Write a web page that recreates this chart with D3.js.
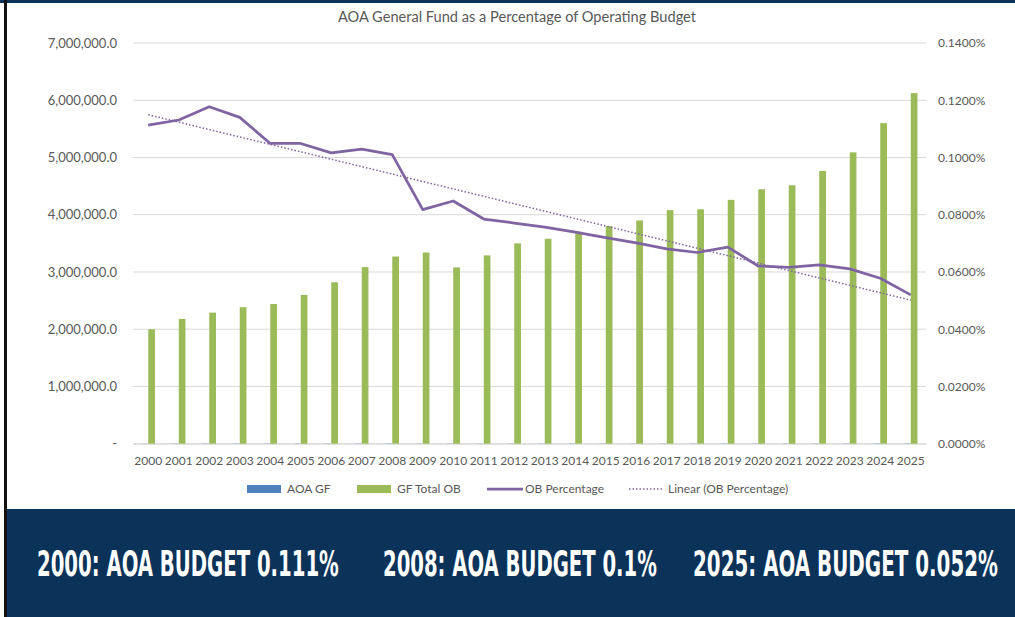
<!DOCTYPE html>
<html>
<head>
<meta charset="utf-8">
<script src="https://cdn.jsdelivr.net/npm/d3@7"></script>
<style>
  html, body { margin: 0; padding: 0; background: #fff; }
  svg { display: block; }
</style>
</head>
<body>
<svg id="chart" width="1015" height="617"></svg>
<script>
// data
const years = ["2000","2001","2002","2003","2004","2005","2006","2007","2008","2009","2010","2011","2012",
               "2013","2014","2015","2016","2017","2018","2019","2020","2021","2022","2023","2024","2025"];
const aoaGf = [2226, 2466, 2695, 2719, 2560, 2727, 2865, 3175, 3303, 2732, 2612, 2583, 2699,
               2710, 2734, 2736, 2738, 2778, 2735, 2927, 2760, 2781, 2978, 3110, 3237, 3185];
const gfTotalOb = [2000000, 2180000, 2290000, 2385000, 2440000, 2600000, 2820000, 3085000, 3270000, 3340000, 3080000, 3290000, 3500000,
                   3580000, 3700000, 3800000, 3900000, 4080000, 4095000, 4260000, 4445000, 4515000, 4765000, 5090000, 5600000, 6125000];
const obPct = [0.001113, 0.001131, 0.001177, 0.001140, 0.001049, 0.001049, 0.001016, 0.001029, 0.001010, 0.000818, 0.000848, 0.000785, 0.000771,
               0.000757, 0.000739, 0.000720, 0.000702, 0.000681, 0.000668, 0.000687, 0.000621, 0.000616, 0.000625, 0.000611, 0.000578, 0.000520];
const leftTicks = [0, 1000000, 2000000, 3000000, 4000000, 5000000, 6000000, 7000000];
const rightTicks = [0, 0.0002, 0.0004, 0.0006, 0.0008, 0.001, 0.0012, 0.0014];
const banner = ["2000: AOA BUDGET 0.111%", "2008: AOA BUDGET 0.1%", "2025: AOA BUDGET 0.052%"];

const svg = d3.select("#chart");
const textColor = "#595959";
const font = "Lato, 'Open Sans', sans-serif";
const navy = "#0b3259";

let plot = {left: 133, right: 926, top: 43, bottom: 443.7};

let x = d3.scaleBand().domain(years).range([plot.left, plot.right]).padding(0);
let xIn = d3.scaleBand().domain(["aoa", "gf"]).range([-x.bandwidth() * 0.22, x.bandwidth() * 0.22]);
let yL = d3.scaleLinear().domain([0, 7000000]).range([plot.bottom, plot.top]);
let yR = d3.scaleLinear().domain([0, 0.0014]).range([plot.bottom, plot.top]);

// frame
svg.append("rect").attr("x", 0).attr("y", 0).attr("width", 1015).attr("height", 617).attr("fill", "#fff");
svg.append("rect").attr("x", 0).attr("y", 0).attr("width", 1015).attr("height", 3).attr("fill", navy);
svg.append("rect").attr("x", 4).attr("y", 0).attr("width", 3).attr("height", 617).attr("fill", "#111");

// title
svg.append("text")
    .attr("x", 517).attr("y", 22)
    .attr("text-anchor", "middle")
    .attr("fill", textColor)
    .style("font", "14.6px " + font)
    .text("AOA General Fund as a Percentage of Operating Budget");

// gridlines
svg.append("g")
    .selectAll("line")
    .data(leftTicks)
    .enter().append("line")
    .attr("x1", plot.left).attr("x2", plot.right)
    .attr("y1", d => yL(d)).attr("y2", d => yL(d))
    .attr("stroke", "#d9d9d9").attr("stroke-width", 1);

// left axis
let axL = svg.append("g")
    .attr("transform", "translate(" + (plot.left - 16) + ",0)")
    .call(d3.axisLeft(yL).tickValues(leftTicks).tickSize(0)
        .tickFormat(d => d === 0 ? "-" : d3.format(",.1f")(d)));
axL.select(".domain").remove();
axL.selectAll("text").attr("fill", textColor).style("font", "13px " + font).attr("x", 0);

// right axis
let axR = svg.append("g")
    .attr("transform", "translate(" + (plot.right + 12) + ",0)")
    .call(d3.axisRight(yR).tickValues(rightTicks).tickSize(0).tickFormat(d3.format(".4%")));
axR.select(".domain").remove();
axR.selectAll("text").attr("fill", textColor).style("font", "12px " + font).attr("x", 0);

// x axis
let axX = svg.append("g")
    .attr("transform", "translate(0," + plot.bottom + ")")
    .call(d3.axisBottom(x).tickSize(0));
axX.select(".domain").attr("stroke", "#d9d9d9");
axX.selectAll("text").attr("fill", textColor).style("font", "12px " + font).attr("y", 13);

// bars
svg.append("g").selectAll("rect")
    .data(years.map((y, i) => ({year: y, v: aoaGf[i]})))
    .enter().append("rect")
    .attr("x", d => x(d.year) + x.bandwidth() / 2 + xIn("aoa"))
    .attr("width", xIn.bandwidth())
    .attr("y", d => yL(d.v))
    .attr("height", d => yL(0) - yL(d.v))
    .attr("fill", "#4f81bd");

svg.append("g").selectAll("rect")
    .data(years.map((y, i) => ({year: y, v: gfTotalOb[i]})))
    .enter().append("rect")
    .attr("x", d => x(d.year) + x.bandwidth() / 2 + xIn("gf"))
    .attr("width", xIn.bandwidth())
    .attr("y", d => yL(d.v))
    .attr("height", d => yL(0) - yL(d.v))
    .attr("fill", "#9bbb59");

// trend (least squares, like the spreadsheet's linear trendline)
let n = obPct.length;
let mx = d3.mean(d3.range(n)), my = d3.mean(obPct);
let slope = d3.sum(obPct, (v, i) => (i - mx) * (v - my)) / d3.sum(d3.range(n), i => (i - mx) * (i - mx));
let icpt = my - slope * mx;
let trend = years.map((y, i) => ({year: y, v: icpt + slope * i}));

let line = d3.line()
    .x(d => x(d.year) + x.bandwidth() / 2)
    .y(d => yR(d.v));

svg.append("path")
    .datum(years.map((y, i) => ({year: y, v: obPct[i]})))
    .attr("d", line)
    .attr("fill", "none")
    .attr("stroke", "#8064a2")
    .attr("stroke-width", 2.75)
    .attr("stroke-linejoin", "round");

svg.append("path")
    .datum(trend)
    .attr("d", line)
    .attr("fill", "none")
    .attr("stroke", "#8064a2")
    .attr("stroke-width", 1.5)
    .attr("stroke-dasharray", "1.5,2");

// legend
let legend = svg.append("g").attr("transform", "translate(0,489)");
legend.append("rect").attr("x", 247).attr("y", -4).attr("width", 34).attr("height", 8).attr("fill", "#4f81bd");
legend.append("text").attr("x", 287).attr("y", 4).attr("fill", textColor).style("font", "12px " + font).text("AOA GF");
legend.append("rect").attr("x", 357).attr("y", -4).attr("width", 34).attr("height", 8).attr("fill", "#9bbb59");
legend.append("text").attr("x", 397).attr("y", 4).attr("fill", textColor).style("font", "12px " + font).text("GF Total OB");
legend.append("line").attr("x1", 487).attr("x2", 523).attr("y1", 0).attr("y2", 0)
    .attr("stroke", "#8064a2").attr("stroke-width", 2.75);
legend.append("text").attr("x", 525).attr("y", 4).attr("fill", textColor).style("font", "12px " + font).text("OB Percentage");
legend.append("line").attr("x1", 629).attr("x2", 663).attr("y1", 0).attr("y2", 0)
    .attr("stroke", "#8064a2").attr("stroke-width", 1.5).attr("stroke-dasharray", "1.5,2");
legend.append("text").attr("x", 668).attr("y", 4).attr("fill", textColor).style("font", "12px " + font).text("Linear (OB Percentage)");

// banner: condensed caps, squeezed horizontally to the reference widths
svg.append("rect").attr("x", 7).attr("y", 509).attr("width", 1008).attr("height", 108).attr("fill", navy);
let bannerPos = [{x: 37, w: 302}, {x: 383, w: 274}, {x: 693, w: 305}];
svg.append("g").selectAll("text")
    .data(banner)
    .enter().append("text")
    .attr("x", 0)
    .attr("y", 0)
    .attr("fill", "#fff")
    .style("font", "bold 36px 'DejaVu Sans Condensed', 'Liberation Sans Narrow', sans-serif")
    .text(d => d)
    .attr("transform", function(d, i) {
        let natural = this.getComputedTextLength();
        return "translate(" + bannerPos[i].x + ",576) scale(" + (bannerPos[i].w / natural) + ",1)";
    });
</script>
</body>
</html>
